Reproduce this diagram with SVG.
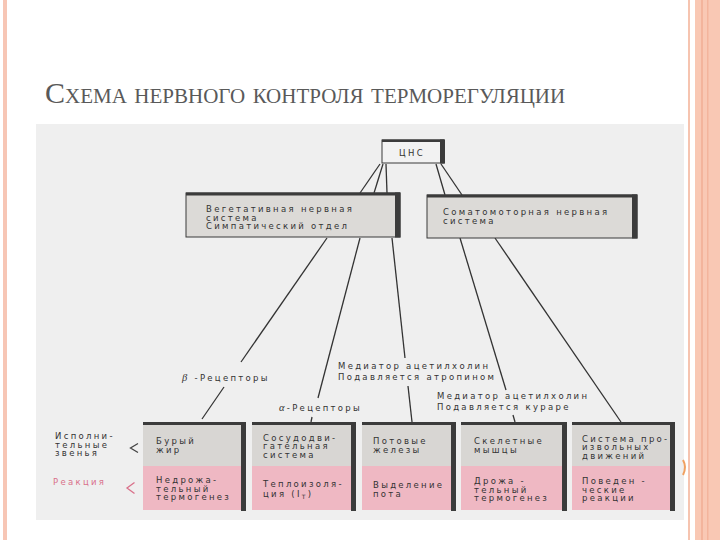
<svg xmlns="http://www.w3.org/2000/svg" width="720" height="540" viewBox="0 0 720 540">
<defs>
<style>
.t{font-family:"DejaVu Sans","Liberation Sans",Arial,sans-serif;font-size:8.5px;fill:#333333;letter-spacing:2.3px}
.c{stroke:#333;stroke-width:1.3;fill:none}
.bar{fill:#3b3b3b}
.g{fill:#d8d6d3}
.p{fill:#efb8c3}
.ub{fill:#dcdad7;stroke:#3b3b3b;stroke-width:1}
</style>
</defs>
<rect width="720" height="540" fill="#ffffff"/>
<!-- slide borders -->
<rect x="3" y="0" width="4" height="540" fill="#f7c6b5"/>
<rect x="688" y="0" width="2" height="540" fill="#f6c4b0"/>
<rect x="695" y="0" width="25" height="540" fill="#f9c8b4"/>
<rect x="701" y="0" width="2" height="540" fill="#f3b49c"/>
<rect x="707" y="0" width="1.5" height="540" fill="#f3b49c"/>
<!-- title -->
<text x="45" y="103" font-family="'Liberation Serif','Times New Roman',serif" font-size="30" fill="#595959" style="font-variant:small-caps">Схема нервного контроля терморегуляции</text>
<!-- picture background -->
<rect x="36" y="124" width="648" height="396" fill="#efefef"/>
<path d="M683,460 Q687,467 683,475" stroke="#f0a060" stroke-width="2" fill="none"/>

<g id="connectors">
<line class="c" x1="380" y1="164" x2="360" y2="193"/>
<line class="c" x1="383" y1="164" x2="374" y2="193"/>
<line class="c" x1="386" y1="164" x2="387" y2="193"/>
<line class="c" x1="436" y1="164" x2="445" y2="195"/>
<line class="c" x1="441" y1="164" x2="462" y2="195"/>
<line class="c" x1="327" y1="238" x2="241" y2="362"/>
<line class="c" x1="224" y1="387" x2="202" y2="419"/>
<line class="c" x1="360" y1="238" x2="318" y2="398"/>
<line class="c" x1="312" y1="417" x2="311" y2="422"/>
<line class="c" x1="392" y1="238" x2="405" y2="358"/>
<line class="c" x1="408" y1="386" x2="412" y2="422"/>
<line class="c" x1="460" y1="238" x2="506" y2="390"/>
<line class="c" x1="513" y1="415" x2="515" y2="422"/>
<line class="c" x1="495" y1="238" x2="621" y2="422"/>
</g>

<g id="labels">
<text class="t" x="182" y="381"><tspan font-style="italic" font-family="'Liberation Serif',serif" font-size="10.5">β</tspan> -Рецепторы</text>
<text class="t" x="279" y="411"><tspan font-style="italic" font-family="'Liberation Serif',serif" font-size="10.5">α</tspan>-Рецепторы</text>
<text class="t" x="338" y="369">Медиатор ацетилхолин</text>
<text class="t" x="338" y="380">Подавляется атропином</text>
<text class="t" x="437" y="399">Медиатор ацетилхолин</text>
<text class="t" x="437" y="410">Подавляется кураре</text>
</g>

<g id="cns">
<rect x="382" y="140" width="62" height="23" fill="#f2f2f2" stroke="#3b3b3b" stroke-width="1"/>
<rect class="bar" x="382" y="139.5" width="62" height="2.5"/>
<rect class="bar" x="440" y="139.5" width="5" height="24"/>
<text class="t" x="412" y="156" text-anchor="middle">ЦНС</text>
</g>

<g id="vegetative">
<rect class="ub" x="186" y="193" width="214" height="44"/>
<rect class="bar" x="186" y="192.5" width="214" height="3"/>
<rect class="bar" x="395" y="192.5" width="5.5" height="45"/>
<text class="t" x="206" y="212">Вегетативная нервная</text>
<text class="t" x="206" y="220.5">система</text>
<text class="t" x="206" y="229">Симпатический отдел</text>
</g>

<g id="somatomotor">
<rect class="ub" x="427" y="195" width="210" height="43"/>
<rect class="bar" x="427" y="194.5" width="210" height="3"/>
<rect class="bar" x="632" y="194.5" width="5.5" height="44"/>
<text class="t" x="443" y="215">Соматомоторная нервная</text>
<text class="t" x="443" y="223.5">система</text>
</g>

<g id="side-labels">
<text class="t" x="55" y="439">Исполни-</text>
<text class="t" x="55" y="447.5">тельные</text>
<text class="t" x="55" y="456">звенья</text>
<polyline points="138,443.5 130.5,448 138,452.5" fill="none" stroke="#444" stroke-width="1.3"/>
<text class="t" x="53" y="485" style="fill:#d9708a">Реакция</text>
<polyline points="134.5,482.5 127,488 134.5,493.5" fill="none" stroke="#d9708a" stroke-width="1.3"/>
</g>

<g id="box1">
<rect class="g" x="143" y="422" width="103" height="44"/>
<rect class="p" x="143" y="466" width="103" height="44"/>
<rect class="bar" x="143" y="422" width="103" height="3"/>
<rect class="bar" x="241" y="422" width="5" height="89"/>
<text class="t" x="156" y="444">Бурый</text>
<text class="t" x="156" y="452.5">жир</text>
<text class="t" x="156" y="483">Недрожа-</text>
<text class="t" x="156" y="491.5">тельный</text>
<text class="t" x="156" y="500">термогенез</text>
</g>

<g id="box2">
<rect class="g" x="252" y="422" width="104" height="44"/>
<rect class="p" x="252" y="466" width="104" height="44"/>
<rect class="bar" x="252" y="422" width="104" height="3"/>
<rect class="bar" x="351" y="422" width="5" height="89"/>
<text class="t" x="263" y="440.5">Сосудодви-</text>
<text class="t" x="263" y="449">гательная</text>
<text class="t" x="263" y="457.5">система</text>
<text class="t" x="263" y="486.5">Теплоизоля-</text>
<text class="t" x="263" y="497">ция (I<tspan font-size="6" dy="1.5">T</tspan><tspan dy="-1.5">)</tspan></text>
</g>

<g id="box3">
<rect class="g" x="362" y="422" width="94" height="44"/>
<rect class="p" x="362" y="466" width="94" height="44"/>
<rect class="bar" x="362" y="422" width="94" height="3"/>
<rect class="bar" x="451" y="422" width="5" height="89"/>
<text class="t" x="373" y="444">Потовые</text>
<text class="t" x="373" y="452.5">железы</text>
<text class="t" x="373" y="487.5">Выделение</text>
<text class="t" x="373" y="496.5">пота</text>
</g>

<g id="box4">
<rect class="g" x="461" y="422" width="106" height="44"/>
<rect class="p" x="461" y="466" width="106" height="44"/>
<rect class="bar" x="461" y="422" width="106" height="3"/>
<rect class="bar" x="562" y="422" width="5" height="89"/>
<text class="t" x="474" y="444">Скелетные</text>
<text class="t" x="474" y="452.5">мышцы</text>
<text class="t" x="474" y="484">Дрожа -</text>
<text class="t" x="474" y="492.5">тельный</text>
<text class="t" x="474" y="501">термогенез</text>
</g>

<g id="box5">
<rect class="g" x="572" y="422" width="103" height="44"/>
<rect class="p" x="572" y="466" width="103" height="44"/>
<rect class="bar" x="572" y="422" width="103" height="3"/>
<rect class="bar" x="670" y="422" width="5" height="89"/>
<text class="t" x="582" y="441.5">Система про-</text>
<text class="t" x="582" y="450">извольных</text>
<text class="t" x="582" y="458.5">движений</text>
<text class="t" x="582" y="484">Поведен -</text>
<text class="t" x="582" y="492.5">ческие</text>
<text class="t" x="582" y="501">реакции</text>
</g>
</svg>
